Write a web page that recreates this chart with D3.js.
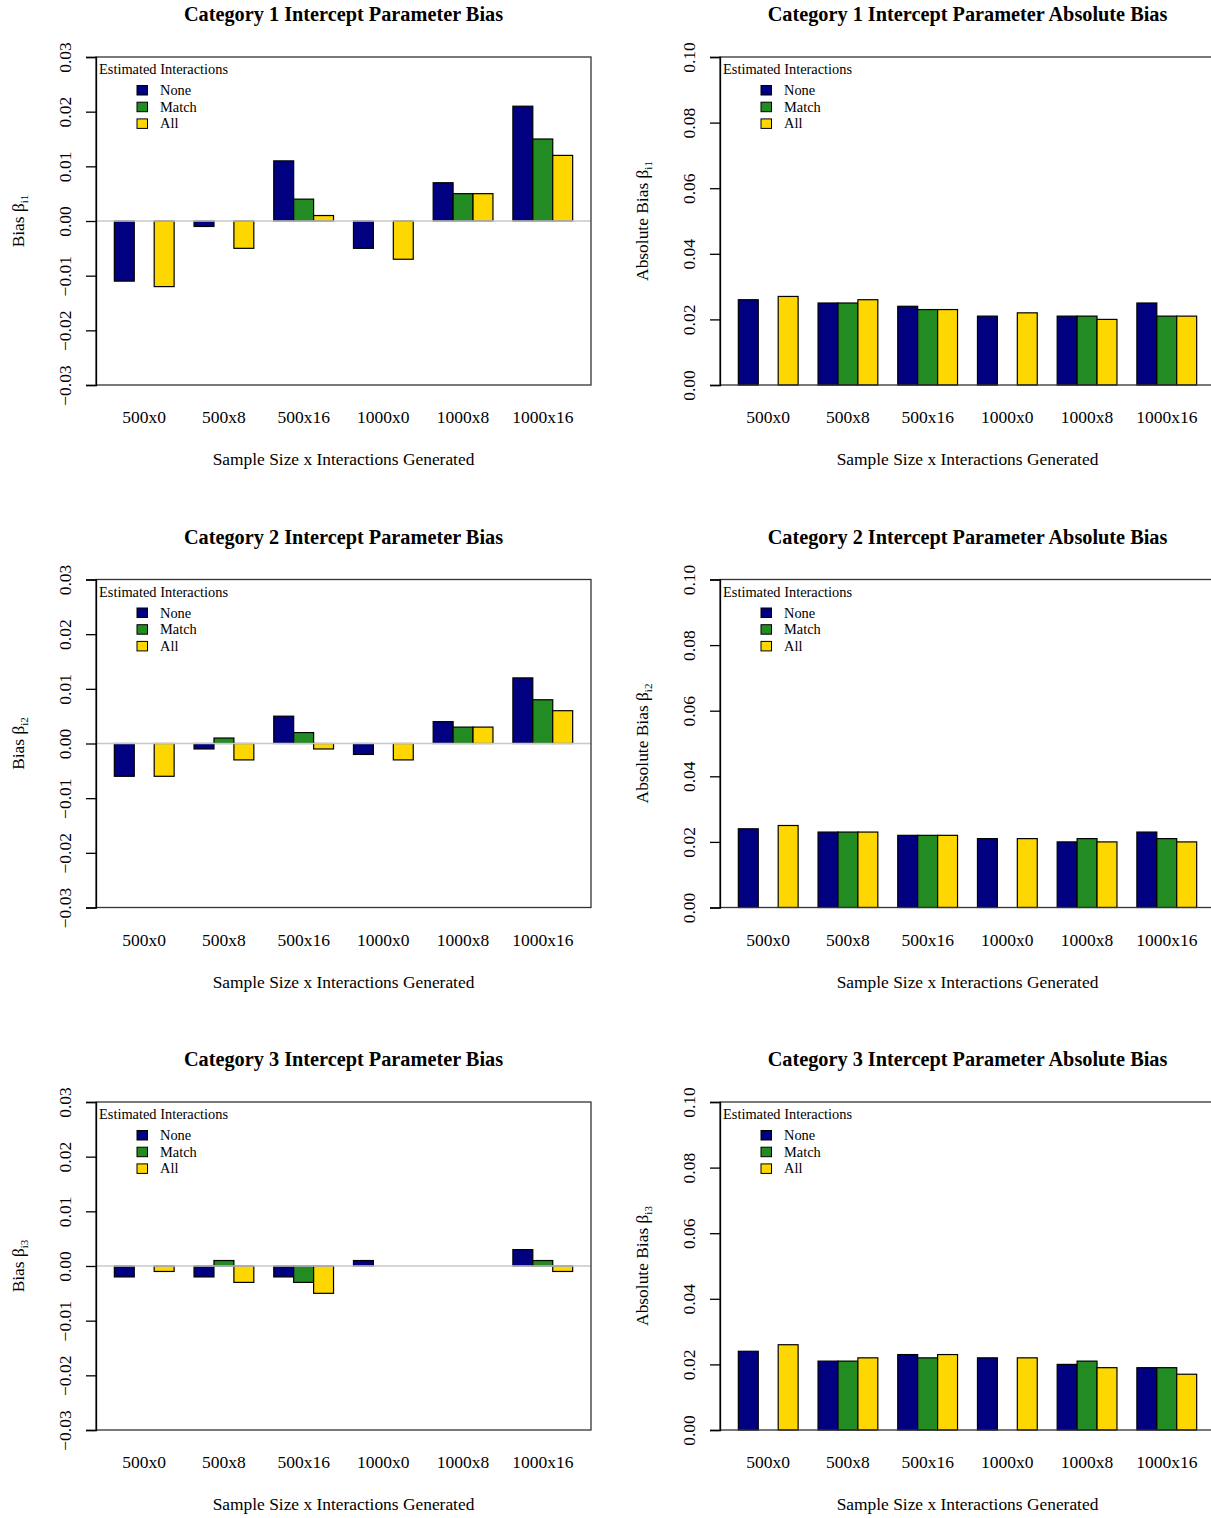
<!DOCTYPE html>
<html>
<head>
<meta charset="utf-8">
<script src="https://cdn.jsdelivr.net/npm/d3@7"></script>
<style>
  html, body { margin: 0; padding: 0; background: #fff; }
  svg { display: block; }
  text { font-family: "Liberation Serif", "Times New Roman", serif; fill: #000; }
</style>
</head>
<body>
<svg id="chart" width="1211" height="1518"></svg>
<script>
// ---------- data ----------
const groups = ["500x0", "500x8", "500x16", "1000x0", "1000x8", "1000x16"];
const seriesNames = ["None", "Match", "All"];
const seriesColors = ["#000080", "#228B22", "#FFD700"];
const legendTitle = "Estimated Interactions";
const xAxisTitle = "Sample Size x Interactions Generated";

const biasTicks = [-0.03, -0.02, -0.01, 0.00, 0.01, 0.02, 0.03];
const absTicks = [0.00, 0.02, 0.04, 0.06, 0.08, 0.10];

// values per group: [None, Match, All]; null = not estimated
const bias1 = [[-0.011, null, -0.012], [-0.001, 0.000, -0.005], [0.011, 0.004, 0.001],
               [-0.005, null, -0.007], [0.007, 0.005, 0.005], [0.021, 0.015, 0.012]];
const abs1  = [[0.026, null, 0.027], [0.025, 0.025, 0.026], [0.024, 0.023, 0.023],
               [0.021, null, 0.022], [0.021, 0.021, 0.020], [0.025, 0.021, 0.021]];
const bias2 = [[-0.006, null, -0.006], [-0.001, 0.001, -0.003], [0.005, 0.002, -0.001],
               [-0.002, null, -0.003], [0.004, 0.003, 0.003], [0.012, 0.008, 0.006]];
const abs2  = [[0.024, null, 0.025], [0.023, 0.023, 0.023], [0.022, 0.022, 0.022],
               [0.021, null, 0.021], [0.020, 0.021, 0.020], [0.023, 0.021, 0.020]];
const bias3 = [[-0.002, null, -0.001], [-0.002, 0.001, -0.003], [-0.002, -0.003, -0.005],
               [0.001, null, 0.000], [0.000, 0.000, 0.000], [0.003, 0.001, -0.001]];
const abs3  = [[0.024, null, 0.026], [0.021, 0.021, 0.022], [0.023, 0.022, 0.023],
               [0.022, null, 0.022], [0.020, 0.021, 0.019], [0.019, 0.019, 0.017]];

const panels = [
  { row: 0, col: 0, title: "Category 1 Intercept Parameter Bias", ylab: "Bias β", sub: "i1", data: bias1, ticks: biasTicks, domain: [-0.03, 0.03], zero: true },
  { row: 0, col: 1, title: "Category 1 Intercept Parameter Absolute Bias", ylab: "Absolute Bias β", sub: "i1", data: abs1, ticks: absTicks, domain: [0, 0.10], zero: false },
  { row: 1, col: 0, title: "Category 2 Intercept Parameter Bias", ylab: "Bias β", sub: "i2", data: bias2, ticks: biasTicks, domain: [-0.03, 0.03], zero: true },
  { row: 1, col: 1, title: "Category 2 Intercept Parameter Absolute Bias", ylab: "Absolute Bias β", sub: "i2", data: abs2, ticks: absTicks, domain: [0, 0.10], zero: false },
  { row: 2, col: 0, title: "Category 3 Intercept Parameter Bias", ylab: "Bias β", sub: "i3", data: bias3, ticks: biasTicks, domain: [-0.03, 0.03], zero: true },
  { row: 2, col: 1, title: "Category 3 Intercept Parameter Absolute Bias", ylab: "Absolute Bias β", sub: "i3", data: abs3, ticks: absTicks, domain: [0, 0.10], zero: false }
];

// ---------- layout ----------
const rowTops = [57, 579.5, 1102];
const boxH = 328;
const colLefts = [96, 720];
const boxW = 495;

const svg = d3.select("#chart");

panels.forEach(p => {
  const top = rowTops[p.row];
  const left = colLefts[p.col];
  const right = left + boxW;
  const bottom = top + boxH;
  const g = svg.append("g");

  const x0 = d3.scaleBand().domain(groups).range([left, right])
    .paddingInner(0.25).paddingOuter(0.23);
  const x1 = d3.scaleBand().domain(seriesNames).range([0, x0.bandwidth()]).padding(0);
  const y = d3.scaleLinear().domain(p.domain).range([bottom, top]);

  // bars
  const barData = [];
  p.data.forEach((vals, gi) => vals.forEach((v, si) => {
    if (v !== null) barData.push({ group: groups[gi], s: si, v });
  }));
  g.selectAll("rect.bar").data(barData).enter().append("rect")
    .attr("class", "bar")
    .attr("x", d => x0(d.group) + x1(seriesNames[d.s]))
    .attr("width", x1.bandwidth())
    .attr("y", d => Math.min(y(d.v), y(0)))
    .attr("height", d => Math.abs(y(d.v) - y(0)))
    .attr("fill", d => seriesColors[d.s])
    .attr("stroke", "#000")
    .attr("stroke-width", 1.2);

  // zero line
  if (p.zero) {
    g.append("line")
      .attr("x1", left).attr("x2", right)
      .attr("y1", y(0)).attr("y2", y(0))
      .attr("stroke", "#c8c8c8").attr("stroke-width", 1.5);
  }

  // box
  g.append("rect")
    .attr("x", left).attr("y", top).attr("width", boxW).attr("height", boxH)
    .attr("fill", "none").attr("stroke", "#333").attr("stroke-width", 1.3);

  // y axis
  const yAxis = d3.axisLeft(y).tickValues(p.ticks).tickSize(10).tickPadding(0)
    .tickFormat(d3.format(".2f"));
  const ax = g.append("g").attr("transform", `translate(${left},0)`).call(yAxis);
  ax.select(".domain").attr("stroke", "#000").attr("stroke-width", 1.3);
  ax.selectAll(".tick line").attr("stroke", "#000").attr("stroke-width", 1.3);
  ax.selectAll(".tick text")
    .attr("x", 0).attr("dy", null)
    .attr("transform", "translate(-31,0) rotate(-90)")
    .attr("text-anchor", "middle")
    .attr("dominant-baseline", "central")
    .style("font-size", "17.5px")
    .style("font-family", "'Liberation Serif', serif")
    .text(d => d3.format(".2f")(d).replace("-", "\u2212"));

  // x group labels
  const xAxis = d3.axisBottom(x0).tickSize(0).tickPadding(0);
  const axb = g.append("g").attr("transform", `translate(0,${top + 360})`).call(xAxis);
  axb.select(".domain").remove();
  axb.selectAll(".tick text")
    .attr("y", 0).attr("dy", null)
    .attr("dominant-baseline", "central")
    .style("font-size", "17.5px")
    .style("font-family", "'Liberation Serif', serif");

  // titles
  g.append("text")
    .attr("x", (left + right) / 2).attr("y", top - 43)
    .attr("text-anchor", "middle").attr("dominant-baseline", "central")
    .style("font-size", "20.3px").style("font-weight", "bold")
    .text(p.title);

  g.append("text")
    .attr("x", (left + right) / 2).attr("y", top + 402)
    .attr("text-anchor", "middle").attr("dominant-baseline", "central")
    .style("font-size", "17.4px")
    .text(xAxisTitle);

  // y label
  const yl = g.append("text")
    .attr("transform", `translate(${left - 72},${y(p.domain[0] + (p.domain[1] - p.domain[0]) / 2)}) rotate(-90)`)
    .attr("text-anchor", "middle")
    .style("font-size", "17.4px");
  yl.append("tspan").text(p.ylab);
  yl.append("tspan").attr("dy", 4).style("font-size", "11px").text(p.sub);

  // legend
  const lg = g.append("g");
  lg.append("text").attr("x", left + 3).attr("y", top + 17)
    .style("font-size", "14.4px").text(legendTitle);
  seriesNames.forEach((s, i) => {
    const cy = top + 33 + i * 16.7;
    lg.append("rect").attr("x", left + 41).attr("y", cy - 4.5).attr("width", 10.5).attr("height", 9.5)
      .attr("fill", seriesColors[i]).attr("stroke", "#000").attr("stroke-width", 1);
    lg.append("text").attr("x", left + 64).attr("y", cy).attr("dominant-baseline", "central")
      .style("font-size", "14.4px").text(s);
  });
});
</script>
</body>
</html>
